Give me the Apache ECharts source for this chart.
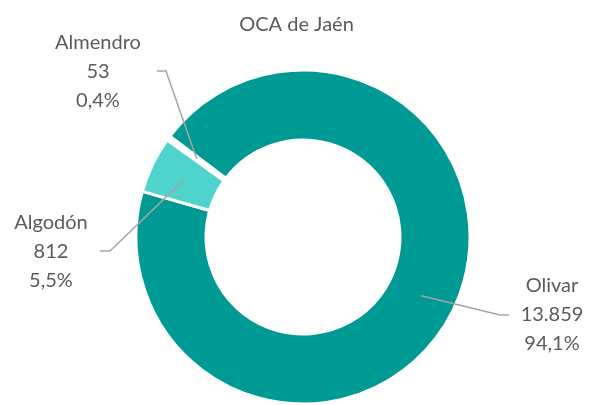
<!DOCTYPE html>
<html>
<head>
<meta charset="utf-8">
<script src="https://cdn.jsdelivr.net/npm/echarts@6/dist/echarts.min.js"></script>
<style>
  html, body { margin: 0; padding: 0; background: #fff; }
  #chart { width: 593px; height: 405px; }
</style>
</head>
<body>
<div id="chart"></div>
<script>
// Superficie por cultivo en la OCA de Jaén
const title = 'OCA de Jaén';
const categories = ['Olivar', 'Algodón', 'Almendro'];
const values = [13859, 812, 53];
const colors = ['#009a94', '#4fd3cd', '#009a94'];
const borderWidths = [3, 3, 4];

// Ring geometry
const cx = 303, cy = 237, rIn = 97, rOut = 167;
const startAngle = 143;
const textColor = '#5b5b5b';
const fontFamily = 'Lato, "Open Sans", sans-serif';

// Label anchors and elbow points for the leader lines
const labelSpots = [
  { x: 552, y: 315, bend: [500, 315], end: [509, 315] },
  { x: 51, y: 252, bend: [110, 251], end: [100, 251] },
  { x: 98, y: 72, bend: [166, 71], end: [157, 71] }
];

const total = values.reduce((a, b) => a + b, 0);

function fmtThousands(n) {
  return String(n).replace(/\B(?=(\d{3})+(?!\d))/g, '.');
}
function fmtPercent(v) {
  return (v / total * 100).toFixed(1).replace('.', ',') + '%';
}

// Mid angle of each slice (degrees, counter-clockwise from 3 o'clock)
const midAngles = [];
let acc = 0;
values.forEach(v => {
  midAngles.push(startAngle - (acc + v / 2) / total * 360);
  acc += v;
});

const ringBase = {
  type: 'pie',
  center: [cx, cy],
  radius: [rIn, rOut],
  startAngle: startAngle,
  clockwise: true,
  avoidLabelOverlap: false,
  silent: true
};

const chart = echarts.init(document.getElementById('chart'), null, { renderer: 'canvas' });

chart.setOption({
  animation: false,
  title: {
    text: title,
    left: 'center',
    top: 10,
    textStyle: { color: textColor, fontSize: 20, fontWeight: 'normal', fontFamily: fontFamily }
  },
  series: [
    // Coloured ring
    Object.assign({}, ringBase, {
      z: 2,
      label: { show: false },
      labelLine: { show: false },
      data: categories.map((name, i) => ({
        name: name,
        value: values[i],
        itemStyle: { color: colors[i], borderColor: '#ffffff', borderWidth: borderWidths[i] }
      }))
    }),
    // Transparent copy on top carrying the labels and leader lines
    Object.assign({}, ringBase, {
      z: 3,
      itemStyle: { color: 'rgba(0,0,0,0)', borderWidth: 0 },
      label: {
        show: true,
        position: 'outside',
        color: textColor,
        fontSize: 20,
        lineHeight: 29,
        fontFamily: fontFamily,
        align: 'center',
        formatter: p => p.name + '\n' + fmtThousands(p.value) + '\n' + fmtPercent(p.value)
      },
      labelLine: {
        show: true,
        lineStyle: { color: '#a5a5a5', width: 1.5 }
      },
      labelLayout: function (params) {
        const i = params.dataIndex;
        const spot = labelSpots[i];
        const a = midAngles[i] * Math.PI / 180;
        const rm = (rIn + rOut) / 2;
        const start = [cx + rm * Math.cos(a), cy - rm * Math.sin(a)];
        return {
          x: spot.x,
          y: spot.y,
          align: 'center',
          verticalAlign: 'middle',
          labelLinePoints: [start, spot.bend, spot.end]
        };
      },
      data: categories.map((name, i) => ({ name: name, value: values[i] }))
    })
  ]
});
</script>
</body>
</html>
